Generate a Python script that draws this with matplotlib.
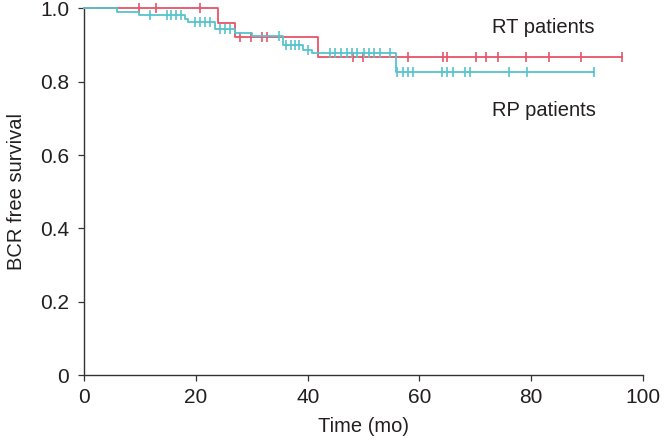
import numpy as np
import matplotlib
matplotlib.use("Agg")
import matplotlib.pyplot as plt

plt.rcParams['font.family'] = ['Liberation Sans', 'DejaVu Sans']

# RT patients (red)
rt_times = [0, 24.0, 26.9, 41.9, 96.2]
rt_surv = [1.0, 0.961, 0.922, 0.868, 0.868]
rt_censor = [9.8, 12.8, 20.8, 27.8, 29.8, 31.9, 32.8, 48.2, 49.9, 58.0, 64.2,
             64.9, 70.1, 72.0, 74.0, 79.1, 83.3, 89.0, 96.2]

# RP patients (cyan)
rp_times = [0, 5.9, 9.8, 18.0, 18.6, 23.4, 27.0, 30.0, 35.6, 39.2, 40.7, 55.9, 91.3]
rp_surv = [1.0, 0.991, 0.982, 0.972, 0.963, 0.943, 0.934, 0.924, 0.900, 0.888,
           0.879, 0.827, 0.827]
rp_censor = [11.8, 14.8, 15.6, 16.5, 17.3, 19.8, 20.7, 21.6, 22.5, 24.3, 25.2,
             26.1, 34.9, 36.2, 37.0, 37.8, 38.5, 40.1, 44.0, 44.9, 46.0, 47.0,
             47.9, 48.9, 50.0, 50.9, 51.9, 53.0, 54.8, 56.0, 57.0, 57.9, 58.9,
             64.0, 64.9, 66.0, 68.2, 69.1, 76.1, 79.2, 91.3]

x_ticks = [0, 20, 40, 60, 80, 100]
y_ticks = [0, 0.2, 0.4, 0.6, 0.8, 1.0]
y_ticklabels = ['0', '0.2', '0.4', '0.6', '0.8', '1.0']

red = '#e8546a'
cyan = '#56c3cc'
txt = '#231f20'

fig = plt.figure(figsize=(6.64, 4.47), dpi=100)
ax = fig.add_axes([0.127, 0.161, 0.841, 0.820])


def km(ax, times, surv, censor, color):
    ax.step(times, surv, where='post', color=color, lw=1.3, clip_on=False, zorder=3)
    t = np.asarray(times)
    s = np.asarray(surv)
    c = np.asarray(censor)
    idx = np.searchsorted(t, c, side='right') - 1
    ax.plot(c, s[idx], linestyle='none', marker='|', markersize=7,
            markeredgewidth=1.2, color=color, clip_on=False, zorder=3)


km(ax, rt_times, rt_surv, rt_censor, red)
km(ax, rp_times, rp_surv, rp_censor, cyan)

ax.text(73.0, 0.932, 'RT patients', fontsize=14.5, color=txt,
        ha='left', va='baseline')
ax.text(73.0, 0.706, 'RP patients', fontsize=14.5, color=txt,
        ha='left', va='baseline')

ax.set_xlim(0, 100)
ax.set_ylim(0, 1.0)
ax.set_xticks(x_ticks)
ax.set_yticks(y_ticks)
ax.set_yticklabels(y_ticklabels)
ax.spines['top'].set_visible(False)
ax.spines['right'].set_visible(False)
for sp in ('left', 'bottom'):
    ax.spines[sp].set_color('#333333')
    ax.spines[sp].set_linewidth(1.0)
ax.tick_params(axis='y', direction='out', length=4.5, width=0.9,
               colors='#333333', labelsize=15, pad=6.5, labelcolor=txt)
ax.tick_params(axis='x', direction='out', length=4, width=0.9,
               colors='#333333', labelsize=15, pad=5.5, labelcolor=txt)
ax.set_xlabel('Time (mo)', fontsize=14.5, color=txt, labelpad=7)
ax.set_ylabel('BCR free survival', fontsize=14.5, color=txt, labelpad=10)

fig.savefig('out.png', dpi=100)
